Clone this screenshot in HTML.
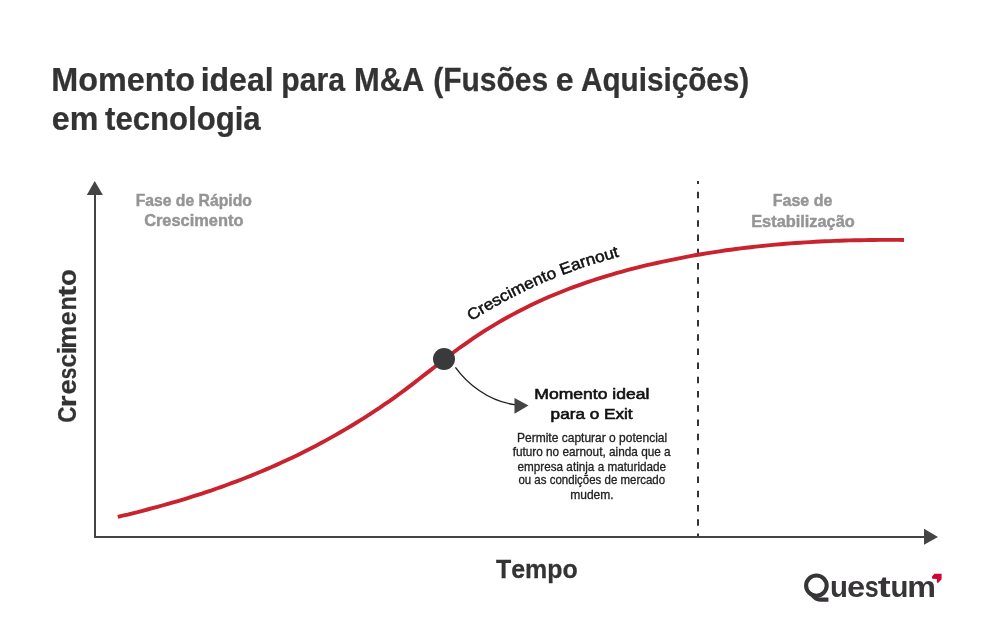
<!DOCTYPE html>
<html><head><meta charset="utf-8">
<style>
html,body{margin:0;padding:0;background:#fff;}
body{width:1008px;height:638px;overflow:hidden;position:relative;}
svg{position:absolute;left:0;top:0;will-change:transform;}
text{font-family:"Liberation Sans",sans-serif;font-kerning:none;}
</style></head>
<body>
<svg width="1008" height="638" viewBox="0 0 1008 638">
<defs><path id="tp" d="M424.8,355.1 L429.8,351.3 L434.8,347.4 L439.8,343.5 L444.9,339.7 L450.0,336.0 L455.1,332.3 L460.2,328.7 L465.3,325.2 L470.4,321.8 L475.5,318.5 L480.6,315.3 L485.7,312.2 L490.8,309.2 L495.9,306.2 L501.0,303.4 L506.1,300.6 L511.3,297.9 L516.4,295.3 L521.5,292.7 L526.6,290.3 L531.7,287.9 L536.8,285.6 L541.9,283.3 L547.0,281.1 L552.1,279.0 L557.2,277.0 L562.3,275.0 L567.4,273.1 L572.5,271.2 L577.5,269.4 L582.6,267.6 L587.7,265.9 L592.8,264.3 L597.9,262.7 L602.9,261.2 L608.0,259.7 L613.1,258.2 L618.1,256.8 L623.2,255.5 L628.2,254.1 L633.3,252.8 L638.3,251.6 L643.3,250.4 L648.4,249.2 L653.4,248.0 L658.4,246.9 L663.5,245.8 L668.5,244.8 L673.5,243.8 L678.6,242.8 L683.6,241.8 L688.6,240.9 L693.7,240.0 L698.7,239.1"/></defs>
<text transform="translate(51.34,90.7) scale(0.9801,1)" font-size="33" font-weight="bold" fill="#333333" stroke="#333333" stroke-width="0.25">Momento</text>
<text transform="translate(200.66,90.7) scale(0.9708,1)" font-size="33" font-weight="bold" fill="#333333" stroke="#333333" stroke-width="0.25">ideal</text>
<text transform="translate(281.31,90.7) scale(0.9138,1)" font-size="33" font-weight="bold" fill="#333333" stroke="#333333" stroke-width="0.25">para</text>
<text transform="translate(353.93,90.7) scale(0.9365,1)" font-size="33" font-weight="bold" fill="#333333" stroke="#333333" stroke-width="0.25">M&amp;A</text>
<text transform="translate(433.21,90.7) scale(0.9091,1)" font-size="33" font-weight="bold" fill="#333333" stroke="#333333" stroke-width="0.25">(Fusões</text>
<text transform="translate(555.65,90.7) scale(0.9726,1)" font-size="33" font-weight="bold" fill="#333333" stroke="#333333" stroke-width="0.25">e</text>
<text transform="translate(580.96,90.7) scale(0.8999,1)" font-size="33" font-weight="bold" fill="#333333" stroke="#333333" stroke-width="0.25">Aquisições)</text>
<text transform="translate(51.74,129.5) scale(0.9761,1)" font-size="33" font-weight="bold" fill="#333333" stroke="#333333" stroke-width="0.25">em</text>
<text transform="translate(105.02,129.5) scale(0.9434,1)" font-size="33" font-weight="bold" fill="#333333" stroke="#333333" stroke-width="0.25">tecnologia</text>
<text transform="translate(135.65,205.6) scale(0.9534,1)" font-size="16.5" font-weight="bold" fill="#959595" stroke="#959595" stroke-width="0.45">Fase de Rápido</text>
<text transform="translate(144.13,226.3) scale(0.9946,1)" font-size="16.5" font-weight="bold" fill="#959595" stroke="#959595" stroke-width="0.45">Crescimento</text>
<text transform="translate(772.73,205.6) scale(0.9719,1)" font-size="16.5" font-weight="bold" fill="#959595" stroke="#959595" stroke-width="0.45">Fase de</text>
<text transform="translate(751.21,226.5) scale(0.9913,1)" font-size="16.5" font-weight="bold" fill="#959595" stroke="#959595" stroke-width="0.45">Estabilização</text>
<text transform="translate(75.9,421.9) rotate(-90) translate(-0.92,0) scale(0.8648,1)" font-size="26" font-weight="bold" fill="#333333" stroke="#333333" stroke-width="0.25">C</text>
<text transform="translate(75.9,405.2) rotate(-90) translate(-1.99,0) scale(1.1609,1)" font-size="26" font-weight="bold" fill="#333333" stroke="#333333" stroke-width="0.25">r</text>
<text transform="translate(75.9,393.3) rotate(-90) translate(-1.08,0) scale(1.0593,1)" font-size="26" font-weight="bold" fill="#333333" stroke="#333333" stroke-width="0.25">e</text>
<text transform="translate(75.9,378.6) rotate(-90) translate(-0.73,0) scale(0.8013,1)" font-size="26" font-weight="bold" fill="#333333" stroke="#333333" stroke-width="0.25">s</text>
<text transform="translate(75.9,366.6) rotate(-90) translate(-0.96,0) scale(0.9462,1)" font-size="26" font-weight="bold" fill="#333333" stroke="#333333" stroke-width="0.25">c</text>
<text transform="translate(75.9,352.6) rotate(-90) translate(-1.98,0) scale(1.0932,1)" font-size="26" font-weight="bold" fill="#333333" stroke="#333333" stroke-width="0.25">i</text>
<text transform="translate(75.9,347) rotate(-90) translate(-1.69,0) scale(0.9852,1)" font-size="26" font-weight="bold" fill="#333333" stroke="#333333" stroke-width="0.25">m</text>
<text transform="translate(75.9,324.3) rotate(-90) translate(-0.97,0) scale(0.9557,1)" font-size="26" font-weight="bold" fill="#333333" stroke="#333333" stroke-width="0.25">e</text>
<text transform="translate(75.9,308.9) rotate(-90) translate(-1.54,0) scale(0.9000,1)" font-size="26" font-weight="bold" fill="#333333" stroke="#333333" stroke-width="0.25">n</text>
<text transform="translate(75.9,296.3) rotate(-90) translate(-0.40,0) scale(1.2463,1)" font-size="26" font-weight="bold" fill="#333333" stroke="#333333" stroke-width="0.25">t</text>
<text transform="translate(75.9,285) rotate(-90) translate(-1.08,0) scale(1.0613,1)" font-size="26" font-weight="bold" fill="#333333" stroke="#333333" stroke-width="0.25">o</text>
<text transform="translate(495.92,577.6) scale(0.9424,1)" font-size="26.5" font-weight="bold" fill="#333333" stroke="#333333" stroke-width="0.25">Tempo</text>
<text transform="translate(534.36,398.6) scale(1.1700,1)" font-size="15" fill="#111111" stroke="#111111" stroke-width="0.6">Momento ideal</text>
<text transform="translate(550.59,419.2) scale(1.1454,1)" font-size="15" fill="#111111" stroke="#111111" stroke-width="0.6">para o Exit</text>
<text transform="translate(517.01,442.4) scale(1.0014,1)" font-size="12" fill="#222222" stroke="#222222" stroke-width="0.3">Permite capturar o potencial</text>
<text transform="translate(512.63,456.3) scale(0.9837,1)" font-size="12" fill="#222222" stroke="#222222" stroke-width="0.3">futuro no earnout, ainda que a</text>
<text transform="translate(517.50,470.5) scale(0.9772,1)" font-size="12" fill="#222222" stroke="#222222" stroke-width="0.3">empresa atinja a maturidade</text>
<text transform="translate(518.42,484.4) scale(0.9566,1)" font-size="12" fill="#222222" stroke="#222222" stroke-width="0.3">ou as condições de mercado</text>
<text transform="translate(570.20,498.8) scale(1.0035,1)" font-size="12" fill="#222222" stroke="#222222" stroke-width="0.3">mudem.</text>
<!-- axes -->
<path d="M95,192 L95,537 L926,537" fill="none" stroke="#444444" stroke-width="2"/>
<path d="M94.7,181 L86.8,195 L102.9,195 Z" fill="#444444"/>
<path d="M938,537 L924,528.8 L924,544.8 Z" fill="#444444"/>
<!-- dashed -->
<line x1="698" y1="181" x2="698" y2="536" stroke="#333333" stroke-width="2" stroke-dasharray="6.5 7.74" stroke-dashoffset="3.5"/>
<!-- curve -->
<path d="M117.8,516.9 L122.7,515.7 L127.7,514.6 L132.6,513.3 L137.6,512.1 L142.5,510.8 L147.5,509.5 L152.4,508.2 L157.4,506.9 L162.3,505.5 L167.2,504.1 L172.2,502.7 L177.1,501.3 L182.1,499.8 L187.0,498.3 L192.0,496.7 L196.9,495.2 L201.9,493.6 L206.8,491.9 L211.7,490.3 L216.7,488.5 L221.6,486.8 L226.6,485.0 L231.5,483.2 L236.5,481.4 L241.4,479.5 L246.4,477.5 L251.3,475.6 L256.3,473.5 L261.2,471.5 L266.1,469.4 L271.1,467.3 L276.0,465.1 L281.0,462.8 L285.9,460.6 L290.9,458.2 L295.8,455.9 L300.8,453.5 L305.7,451.0 L310.6,448.5 L315.6,445.9 L320.5,443.3 L325.5,440.6 L330.4,437.9 L335.4,435.1 L340.3,432.3 L345.3,429.4 L350.2,426.5 L355.1,423.5 L360.1,420.4 L365.0,417.3 L370.0,414.1 L374.9,410.9 L379.9,407.6 L384.8,404.2 L389.8,400.8 L394.7,397.3 L399.6,393.7 L404.6,390.1 L409.5,386.4 L414.5,382.6 L419.4,378.8 L424.4,374.9 L429.3,371.1 L434.3,367.2 L439.2,363.3 L444.1,359.5 L449.1,355.7 L454.0,352.0 L459.0,348.3 L463.9,344.8 L468.9,341.3 L473.8,337.9 L478.8,334.6 L483.7,331.4 L488.6,328.3 L493.6,325.3 L498.5,322.4 L503.5,319.5 L508.4,316.8 L513.4,314.1 L518.3,311.5 L523.3,308.9 L528.2,306.5 L533.2,304.1 L538.1,301.8 L543.0,299.5 L548.0,297.3 L552.9,295.2 L557.9,293.2 L562.8,291.2 L567.8,289.3 L572.7,287.4 L577.7,285.6 L582.6,283.8 L587.5,282.1 L592.5,280.5 L597.4,278.9 L602.4,277.3 L607.3,275.8 L612.3,274.4 L617.2,272.9 L622.2,271.6 L627.1,270.2 L632.0,268.9 L637.0,267.7 L641.9,266.4 L646.9,265.2 L651.8,264.1 L656.8,263.0 L661.7,261.9 L666.7,260.8 L671.6,259.8 L676.5,258.8 L681.5,257.8 L686.4,256.8 L691.4,255.9 L696.3,255.0 L701.3,254.2 L706.2,253.4 L711.2,252.6 L716.1,251.8 L721.0,251.1 L726.0,250.3 L730.9,249.7 L735.9,249.0 L740.8,248.4 L745.8,247.8 L750.7,247.2 L755.7,246.6 L760.6,246.1 L765.5,245.6 L770.5,245.1 L775.4,244.6 L780.4,244.2 L785.3,243.8 L790.3,243.4 L795.2,243.0 L800.2,242.7 L805.1,242.4 L810.1,242.1 L815.0,241.8 L819.9,241.5 L824.9,241.3 L829.8,241.1 L834.8,240.9 L839.7,240.7 L844.7,240.5 L849.6,240.4 L854.6,240.3 L859.5,240.2 L864.4,240.1 L869.4,240.0 L874.3,240.0 L879.3,239.9 L884.2,239.9 L889.2,239.9 L894.1,239.9 L899.1,239.9 L904.0,240.0" fill="none" stroke="#c8232e" stroke-width="3.9"/>
<!-- curve text -->
<text font-size="16" fill="#111111" stroke="#111111" stroke-width="0.5"><textPath href="#tp" startOffset="57.5" textLength="162.5" lengthAdjust="spacingAndGlyphs">Crescimento Earnout</textPath></text>
<!-- dot -->
<circle cx="444" cy="359" r="11" fill="#3a3a3a"/>
<!-- arrow -->
<path d="M455.4,367.3 C466.5,382.5 487.5,401.5 516,404.8" fill="none" stroke="#1e1e1e" stroke-width="1.35"/>
<path d="M528.5,405.5 L514.5,397.9 L514.5,413.7 Z" fill="#444444"/>
<!-- logo -->
<ellipse cx="816.4" cy="585.6" rx="10.3" ry="10.15" fill="none" stroke="#373538" stroke-width="4.1"/>
<path d="M811.8,594.2 C814.5,598 816.5,599.6 820,599.6 L828.4,599.6" fill="none" stroke="#373538" stroke-width="4.1"/>
<text transform="translate(829.98,597.1) scale(0.997,1)" font-size="29.5" font-weight="bold" fill="#373538">u</text>
<text transform="translate(846.92,597.1) scale(1.109,1)" font-size="29.5" font-weight="bold" fill="#373538">e</text>
<text transform="translate(864.82,597.1) scale(0.847,1)" font-size="29.5" font-weight="bold" fill="#373538">s</text>
<text transform="translate(877.73,597.1) scale(1.318,1)" font-size="29.5" font-weight="bold" fill="#373538">t</text>
<text transform="translate(890.58,597.1) scale(0.997,1)" font-size="29.5" font-weight="bold" fill="#373538">u</text>
<text transform="translate(907.17,597.1) scale(1.095,1)" font-size="29.5" font-weight="bold" fill="#373538">m</text>
<path d="M934.5,573.8 L941.6,573.8 L941.6,579.3 L938,582.9 L936.9,582.5 L936.9,578.9 L932.2,578.7 L932,576.6 Z" fill="#d50032"/>
</svg>
</body></html>
